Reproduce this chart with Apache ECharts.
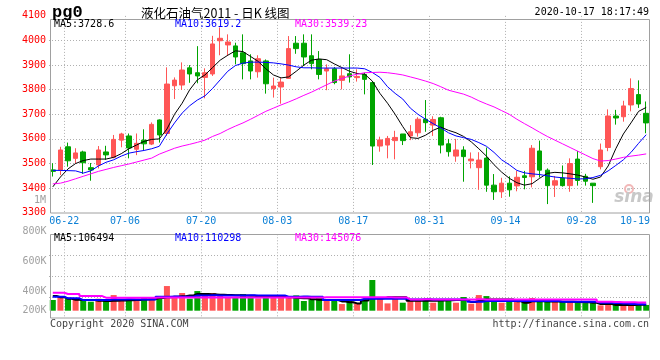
<!DOCTYPE html>
<html><head><meta charset="utf-8">
<script src="https://cdn.jsdelivr.net/npm/echarts/dist/echarts.min.js"></script>
<style>html,body{margin:0;padding:0;background:#fff}#c{width:660px;height:360px}</style>
</head><body><div id="c"></div>
<script>
const dates = ["06-18","06-19","06-22","06-23","06-24","06-29","06-30","07-01","07-02","07-03",
"07-06","07-07","07-08","07-09","07-10","07-13","07-14","07-15","07-16","07-17",
"07-20","07-21","07-22","07-23","07-24","07-27","07-28","07-29","07-30","07-31",
"08-03","08-04","08-05","08-06","08-07","08-10","08-11","08-12","08-13","08-14",
"08-17","08-18","08-19","08-20","08-21","08-24","08-25","08-26","08-27","08-28",
"08-31","09-01","09-02","09-03","09-04","09-07","09-08","09-09","09-10","09-11",
"09-14","09-15","09-16","09-17","09-18","09-21","09-22","09-23","09-24","09-25",
"09-28","09-29","09-30","10-09","10-12","10-13","10-14","10-15","10-16"];
const opens = [3474,3473,3568,3521,3547,3483,3494,3547,3525,3595,3612,3558,3595,3579,3677,3622,3816,3819,3889,3869,3850,3864,3999,3982,3978,3950,3917,3873,3917,3804,3811,3846,3989,3989,3938,3923,3876,3885,3838,3865,3849,3862,3829,3571,3575,3593,3620,3612,3625,3680,3656,3686,3580,3530,3555,3511,3483,3522,3412,3385,3420,3409,3450,3446,3551,3473,3412,3441,3410,3518,3448,3420,3487,3565,3693,3690,3738,3780,3704];
const closes = [3468,3555,3511,3543,3503,3474,3555,3535,3598,3620,3563,3582,3580,3659,3616,3823,3839,3880,3864,3856,3869,3986,4009,3994,3933,3906,3876,3926,3824,3815,3831,3967,3967,3933,3906,3862,3885,3829,3856,3852,3854,3842,3571,3596,3602,3606,3593,3629,3680,3666,3679,3575,3548,3555,3528,3518,3514,3412,3385,3420,3393,3444,3443,3562,3473,3410,3430,3410,3500,3431,3428,3410,3555,3693,3685,3734,3805,3742,3665];
const lows = [3447,3453,3487,3499,3458,3430,3480,3515,3521,3566,3521,3534,3555,3575,3585,3612,3762,3799,3828,3826,3765,3856,3940,3937,3903,3842,3842,3849,3784,3768,3743,3846,3946,3896,3883,3842,3798,3822,3801,3829,3833,3781,3494,3548,3521,3517,3575,3595,3609,3629,3612,3541,3528,3507,3426,3480,3393,3385,3352,3360,3365,3387,3395,3403,3443,3335,3364,3406,3385,3410,3410,3340,3476,3550,3658,3670,3712,3726,3623];
const highs = [3501,3568,3585,3562,3552,3502,3571,3572,3616,3625,3622,3622,3639,3667,3679,3891,3850,3911,3900,3977,3887,4019,4053,4025,3991,4025,3944,3940,3923,3849,3849,4018,4018,4025,4025,3957,3903,3892,3889,3944,3883,3869,3835,3609,3612,3633,3620,3656,3688,3758,3692,3690,3600,3600,3570,3545,3546,3565,3457,3442,3448,3470,3470,3575,3593,3480,3449,3492,3521,3551,3458,3420,3581,3720,3718,3755,3846,3838,3752];
const ma5 = [3405,3445,3478,3500,3512,3518,3518,3518,3525,3540,3560,3575,3590,3598,3600,3640,3700,3745,3800,3840,3860,3890,3920,3940,3958,3955,3935,3915,3885,3860,3848,3852,3875,3900,3920,3925,3922,3905,3890,3875,3866,3863,3835,3785,3745,3700,3650,3605,3602,3615,3635,3648,3635,3625,3610,3588,3560,3530,3495,3465,3440,3422,3412,3418,3440,3460,3464,3462,3458,3453,3445,3436,3445,3490,3560,3620,3665,3712,3728];
const ma10 = [3472,3472,3471,3470,3461,3470,3490,3505,3515,3530,3542,3548,3553,3560,3570,3620,3665,3705,3735,3758,3775,3805,3840,3875,3898,3908,3912,3912,3911,3909,3905,3900,3893,3889,3889,3888,3888,3888,3888,3888,3888,3885,3870,3850,3812,3785,3762,3725,3700,3680,3662,3645,3625,3612,3605,3598,3585,3570,3545,3515,3495,3472,3462,3458,3455,3450,3445,3442,3440,3437,3438,3443,3452,3470,3492,3515,3545,3582,3617];
const ma30 = [3417,3420,3428,3438,3448,3458,3468,3476,3484,3491,3498,3506,3514,3522,3538,3550,3562,3571,3578,3586,3595,3610,3622,3638,3652,3665,3680,3696,3712,3725,3738,3750,3763,3777,3790,3805,3820,3835,3845,3856,3863,3869,3870,3871,3869,3865,3860,3852,3844,3835,3825,3812,3798,3790,3782,3770,3755,3742,3730,3715,3700,3680,3662,3645,3627,3610,3595,3580,3565,3550,3535,3520,3510,3512,3518,3525,3530,3534,3539];
const volumes = [190000,237000,213000,190000,201000,160000,213000,172000,278000,172000,213000,213000,237000,237000,219000,438000,237000,314000,213000,349000,314000,314000,296000,237000,237000,296000,237000,219000,272000,231000,237000,231000,272000,172000,190000,237000,190000,172000,118000,190000,130000,207000,545000,237000,130000,237000,142000,190000,190000,190000,142000,207000,190000,142000,243000,124000,278000,260000,201000,142000,190000,190000,172000,225000,160000,190000,160000,160000,160000,150000,135000,135000,95000,118000,110000,98000,120000,102000,102000];
const volMa5 = [260000,240000,213000,195000,189000,189000,178000,172000,175000,180000,186000,189000,201000,205000,225000,240000,249000,255000,272000,296000,296000,290000,285000,280000,275000,270000,265000,255000,260000,249000,250000,240000,225000,219000,205000,195000,189000,189000,165000,150000,130000,180000,219000,219000,237000,237000,237000,178000,178000,178000,178000,180000,185000,189000,189000,154000,175000,201000,201000,201000,201000,170000,142000,166000,166000,164000,162000,160000,158000,156000,152000,140000,118000,118000,101000,101000,103000,106000,106494];
const volMa10 = [249000,249000,219000,219000,189000,189000,189000,190000,201000,201000,202000,201000,200000,201000,249000,249000,250000,249000,248000,272000,272000,273000,272000,271000,272000,272000,273000,272000,272000,271000,272000,249000,249000,250000,249000,249000,189000,189000,190000,189000,189000,213000,213000,214000,213000,213000,212000,201000,201000,202000,201000,200000,201000,201000,201000,160000,160000,172000,172000,173000,172000,172000,171000,172000,172000,172000,172000,160000,160000,161000,160000,160000,142000,140000,135000,128000,120000,115000,110298];
const volMa30 = [320000,320000,296000,296000,260000,260000,260000,231000,231000,232000,231000,231000,230000,231000,233000,233000,234000,233000,233000,234000,233000,233000,234000,234000,233000,233000,234000,233000,233000,233000,234000,234000,233000,233000,234000,235000,237000,237000,237000,237000,238000,237000,237000,237000,237000,236000,236000,201000,201000,202000,201000,201000,201000,200000,201000,201000,202000,201000,201000,200000,201000,201000,201000,200000,200000,201000,200000,200000,199000,199000,199000,198000,160000,158000,155000,152000,150000,147000,145076];
const tickLabels = ["06-22","07-06","07-20","08-03","08-17","08-31","09-14","09-28","10-19"];
const volumeTickLabels = ["800K","600K","400K","200K"];
const priceMin = 3300, priceMax = 4100, priceStep = 100;
const legendPrice = ["MA5:3728.6","MA10:3619.2","MA30:3539.23"];
const legendVolume = ["MA5:106494","MA10:110298","MA30:145076"];

const RED = '#ff5656', GREEN = '#00a400', BLUE_LBL = '#0d80d6', GRID = '#b0b0b0', FRAME = '#a0a0a0';
const MONO = '"DejaVu Sans Mono", monospace';
const boundaryCats = dates.concat([tickLabels[tickLabels.length - 1]]);
const candleData = dates.map((d, i) => [opens[i], closes[i], lows[i], highs[i]]);
const volData = volumes.map((v, i) => ({ value: v, itemStyle: { color: closes[i] >= opens[i] ? RED : GREEN } }));

const GL = 49, GW = 601;
const splitV = { show: true, interval: (idx, val) => tickLabels.indexOf(val) >= 0 && idx < dates.length,
  lineStyle: { color: GRID, type: [1, 2], width: 1 } };

function txt(x, y, text, color, font, align) {
  return { type: 'text', x: x, y: y, silent: true, z: 120,
    style: { text: text, fill: color, font: font, textAlign: align || 'left', align: align || 'left',
             textVerticalAlign: 'middle', verticalAlign: 'middle' } };
}
const graphics = [
  { type: 'rect', silent: true, z: 110, shape: { x: 50.5, y: 19.5, width: 599, height: 193.5 }, style: { fill: 'none', stroke: FRAME, lineWidth: 1 } },
  { type: 'rect', silent: true, z: 110, shape: { x: 50.5, y: 234.5, width: 599, height: 83.5 }, style: { fill: 'none', stroke: FRAME, lineWidth: 1 } },
  txt(52, 13, 'pg0', '#000', 'bold 17px "Liberation Mono", monospace'),
  txt(141, 13, '液化石油气2011 - 日K 线图', '#000', '12.5px "Noto Sans CJK SC", sans-serif'),
  txt(649, 12, '2020-10-17 18:17:49', '#000', '10px ' + MONO, 'right'),
  txt(54, 24, legendPrice[0], '#000', '10px ' + MONO),
  txt(175, 24, legendPrice[1], '#0000ff', '10px ' + MONO),
  txt(295, 24, legendPrice[2], '#ff00ff', '10px ' + MONO),
  txt(54, 238.5, legendVolume[0], '#000', '10px ' + MONO),
  txt(175, 238.5, legendVolume[1], '#0000ff', '10px ' + MONO),
  txt(295, 238.5, legendVolume[2], '#ff00ff', '10px ' + MONO),
  txt(46, 200, '1M', '#a0a0a0', '10px ' + MONO, 'right'),
  txt(46.5, 231, volumeTickLabels[0], '#a0a0a0', '10px ' + MONO, 'right'),
  txt(46.5, 261, volumeTickLabels[1], '#a0a0a0', '10px ' + MONO, 'right'),
  txt(46.5, 291, volumeTickLabels[2], '#a0a0a0', '10px ' + MONO, 'right'),
  txt(46.5, 310.5, volumeTickLabels[3], '#a0a0a0', '10px ' + MONO, 'right'),
  txt(50, 324, 'Copyright 2020 SINA.COM', '#444', '10px ' + MONO),
  txt(649, 324, 'http://finance.sina.com.cn', '#444', '10px ' + MONO, 'right'),
  { type: 'circle', silent: true, z: 1, shape: { cx: 629, cy: 189, r: 4 }, style: { fill: 'none', stroke: '#f2b8b8', lineWidth: 2 } },
  txt(634, 198, 'sina', '#c8c8c8', 'italic bold 17px "DejaVu Sans", sans-serif', 'center')
];
graphics[graphics.length - 1].z = 1;

const chart = echarts.init(document.getElementById('c'));
chart.setOption({
  animation: false,
  backgroundColor: '#fff',
  grid: [
    { left: GL, width: GW, top: 15.9, height: 196.8 },
    { left: GL, width: GW, top: 234.3, height: 84 }
  ],
  xAxis: [
    { type: 'category', gridIndex: 0, data: dates, boundaryGap: true, show: false },
    { type: 'category', gridIndex: 0, data: boundaryCats, boundaryGap: false, position: 'bottom',
      axisLine: { show: false }, axisTick: { show: false },
      axisLabel: { show: true, margin: 4, color: BLUE_LBL, fontFamily: MONO, fontSize: 10, showMaxLabel: true,
        interval: (idx, val) => tickLabels.indexOf(val) >= 0,
        formatter: (val, idx) => idx === boundaryCats.length - 1 ? '{end|' + val + '}' : val,
        rich: { end: { padding: [0, 30, 0, 0], color: BLUE_LBL, fontFamily: MONO, fontSize: 10 } } },
      splitLine: splitV },
    { type: 'category', gridIndex: 1, data: dates, boundaryGap: true, show: false },
    { type: 'category', gridIndex: 1, data: boundaryCats, boundaryGap: false,
      axisLine: { show: false }, axisTick: { show: false }, axisLabel: { show: false }, splitLine: splitV }
  ],
  yAxis: [
    { type: 'value', gridIndex: 0, min: priceMin, max: priceMax, interval: priceStep,
      axisLine: { show: false }, axisTick: { show: false },
      axisLabel: { color: '#ff0000', fontFamily: MONO, fontSize: 10, margin: 3, formatter: v => String(v) },
      splitLine: { show: true, showMinLine: false, showMaxLine: false, lineStyle: { color: GRID, type: [1, 2], width: 1 } } },
    { type: 'value', gridIndex: 1, min: -135000, max: 1357000, show: false, splitLine: { show: false } },
    { type: 'value', gridIndex: 1, inverse: true, min: 0, max: 84, interval: 21,
      axisLine: { show: false }, axisTick: { show: false }, axisLabel: { show: false },
      splitLine: { show: true, showMinLine: false, showMaxLine: false, lineStyle: { color: GRID, type: [1, 2], width: 1 } } }
  ],
  series: [
    { type: 'candlestick', xAxisIndex: 0, yAxisIndex: 0, data: candleData, barWidth: 5, z: 2,
      itemStyle: { color: RED, color0: GREEN, borderColor: RED, borderColor0: GREEN, borderWidth: 1 } },
    { type: 'line', xAxisIndex: 0, yAxisIndex: 0, data: ma5, showSymbol: false, symbol: 'none', z: 3, lineStyle: { color: '#000', width: 1 } },
    { type: 'line', xAxisIndex: 0, yAxisIndex: 0, data: ma10, showSymbol: false, symbol: 'none', z: 3, lineStyle: { color: '#0000ff', width: 1 } },
    { type: 'line', xAxisIndex: 0, yAxisIndex: 0, data: ma30, showSymbol: false, symbol: 'none', z: 3, lineStyle: { color: '#ff00ff', width: 1 } },
    { type: 'bar', xAxisIndex: 2, yAxisIndex: 1, data: volData, barWidth: 6, z: 2 },
    { type: 'line', xAxisIndex: 2, yAxisIndex: 1, data: volMa5, step: 'middle', showSymbol: false, symbol: 'none', z: 3, lineStyle: { color: '#000', width: 2 } },
    { type: 'line', xAxisIndex: 2, yAxisIndex: 1, data: volMa10, step: 'middle', showSymbol: false, symbol: 'none', z: 3, lineStyle: { color: '#0000ff', width: 2 } },
    { type: 'line', xAxisIndex: 2, yAxisIndex: 1, data: volMa30, step: 'middle', showSymbol: false, symbol: 'none', z: 3, lineStyle: { color: '#ff00ff', width: 2 } }
  ],
  graphic: { elements: graphics }
});
</script></body></html>
